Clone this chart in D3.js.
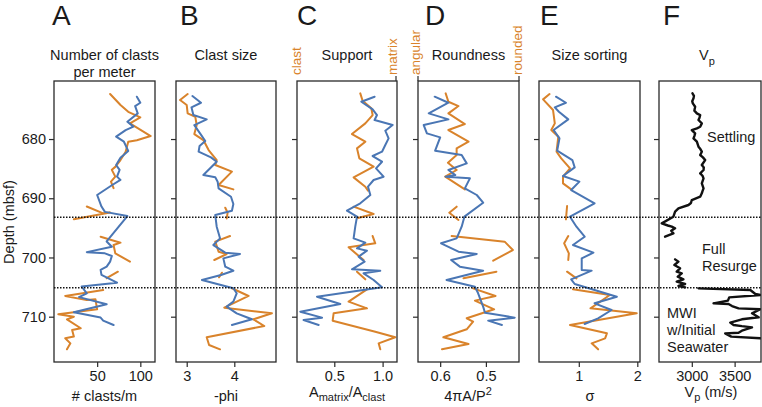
<!DOCTYPE html>
<html><head><meta charset="utf-8">
<script src="https://cdn.jsdelivr.net/npm/d3@7"></script>
<style>body{margin:0;background:#fff}text{font-family:"Liberation Sans",Arial,sans-serif;fill:#1a1a1a}</style>
</head><body>
<script>
// ---------- data (depth in mbsf, value) ; null = gap ----------
const depthTicks = [680, 690, 700, 710];
const depthDomain = [670.2, 717.65];
const boundaryDepths = [693.2, 705.1];

const clastsBlue = [[672.85,96],[673.87,100],[674.43,94],[675.67,97],[677.07,85],[677.9,92],[678.5,83],[679.6,72],[680.45,81],[682.0,86],[683.15,77],[684.4,72],[685.2,76],[686.35,73],[686.9,77],[687.8,67],[689.45,50],[691.4,55],[692.3,59],[693.0,85],[694.8,75],[697.3,61],[698.2,67],[699.1,38],[699.3,59],[699.75,67],[700.7,65],[701.55,61],[702.1,54],[702.95,55],[704.25,73],[704.9,32],[706.05,38],[706.7,29],[707.9,61],[709.25,23],[710.15,54],[710.65,57],[711.4,69]];
const clastsOrange = [[672.4,65],[674.26,77],[675.4,86],[676.35,100],[677.35,88],[679.5,112],[680.2,96],[680.45,86],[682.15,83],[683.55,77],[684.7,71],[685.2,67],[686.35,71],[687.2,66],[688.3,69],[688.4,null],[691.4,38],[692.55,57],[692.4,65],[693.55,23],[694,null],[696.5,54],[697.5,77],[697.9,69],[699.3,71],[700.7,88],[701,null],[702.4,74],[703.5,61],[704,null],[705.5,57],[706.5,13],[707.2,38],[707.05,48],[708.75,50],[709.6,5],[710.0,23],[710.45,15],[711.95,31],[712.25,21],[713.35,23],[713.65,13],[714.5,19],[715.5,15]];

const sizeBlue = [[672.74,3.12],[673.87,3.30],[674.65,3.10],[675.95,3.14],[676.68,3.42],[677.64,3.16],[679.04,3.28],[680.34,3.39],[681.18,3.27],[682.14,3.25],[683.1,3.51],[683.83,3.63],[686.08,3.35],[686.47,3.60],[687.2,3.65],[688.33,3.67],[689.74,3.93],[690.97,3.98],[692.1,3.95],[692.83,3.60],[694.8,3.63],[696.77,3.70],[697.9,3.56],[699.19,3.81],[699.41,4.12],[700.15,3.77],[701.55,3.81],[702.23,3.98],[702.96,3.72],[703.8,3.32],[705.2,3.98],[706.05,4.05],[707.46,3.98],[708.3,3.84],[709.43,4.05],[710.1,4.26],[710.44,4.37],[711.4,3.95]];
const sizeOrange = [[672.4,3.02],[673.42,2.86],[674.26,3.0],[675.67,3.02],[676.23,3.18],[677.64,3.21],[679.16,3.16],[680.17,3.35],[681.86,3.46],[683.55,3.63],[684.39,3.60],[685.51,3.95],[687.77,3.67],[688.5,3.98],[689,null],[691.6,3.81],[692.44,3.86],[693.4,3.84],[694,null],[696.38,3.91],[697.33,3.60],[699.02,3.67],[699.41,3.84],[700.43,3.58],[701,null],[702.57,3.74],[703.35,3.68],[704,null],[705.2,3.95],[706.5,4.30],[708.47,3.79],[709.43,4.79],[710.44,4.40],[711.57,4.63],[713.48,3.42],[714.78,3.47],[715.51,3.70]];

const supportBlue = [[672.85,0.917],[673.7,0.78],[674.99,0.897],[675.95,0.942],[676.79,0.917],[677.64,1.104],[678.59,1.028],[679.89,1.062],[681.01,1.028],[682.14,0.994],[682.87,0.897],[683.83,0.994],[684.95,0.932],[686.36,1.01],[686.92,0.907],[688.05,0.849],[689.45,0.873],[690.86,0.769],[692.1,0.631],[693.11,0.735],[694.8,0.717],[696.77,0.70],[697.5,0.821],[698.46,0.735],[698.85,0.838],[699.86,0.752],[700.71,0.814],[702.0,0.683],[702.23,0.976],[702.68,0.803],[703.8,0.907],[705.04,0.994],[706.62,0.321],[707.86,0.562],[709.15,0.148],[710.16,0.373],[710.56,0.182],[711.4,0.338]];
const supportOrange = [[672.29,0.769],[673.53,0.793],[674.82,0.883],[675.95,0.897],[677.36,0.821],[679.16,0.683],[680.45,0.821],[681.58,0.735],[683.26,0.759],[684.67,0.907],[686.47,0.70],[688.05,0.821],[688.72,0.849],[689,null],[691.42,0.70],[692.66,0.907],[693.39,0.735],[694,null],[696.38,0.897],[697.61,0.924],[698.29,0.648],[700.43,0.803],[701,null],[702.4,0.735],[703.69,0.821],[704,null],[705.38,0.838],[707.46,0.648],[708.59,0.838],[709.43,0.493],[710.67,0.483],[712.53,0.924],[713.48,1.131],[714.5,0.959],[715.51,0.976]];

const roundBlue = [[672.85,0.612],[673.87,0.582],[675.67,0.625],[676.68,0.582],[677.64,0.636],[679.04,0.629],[679.72,0.600],[681.97,0.611],[682.7,0.553],[684.11,0.542],[685.23,0.582],[686.08,0.567],[686.36,0.588],[686.64,0.535],[688.33,0.546],[689.45,0.520],[690.75,0.506],[693.11,0.547],[694.8,0.553],[696.77,0.564],[697.61,0.598],[699.02,0.560],[699.41,0.520],[700.43,0.576],[701.55,0.557],[702.23,0.506],[703.8,0.586],[704.93,0.524],[706.05,0.517],[708.3,0.506],[709.32,0.502],[710.16,0.437],[710.67,0.495],[711.4,0.465]];
const roundOrange = [[672.29,0.588],[673.7,0.582],[674.43,0.560],[675.67,0.582],[677.47,0.546],[678.48,0.582],[680.45,0.538],[681.58,0.564],[682.7,0.564],[684.0,0.583],[685.23,0.564],[686.36,0.589],[688.5,0.546],[689,null],[691.42,0.564],[692.44,0.580],[693.67,0.560],[694,null],[696.38,0.575],[697.33,0.459],[698.74,0.441],[700.54,0.484],[701,null],[702.4,0.477],[703.52,0.549],[704,null],[705.21,0.528],[706.5,0.479],[707.29,0.524],[708.75,0.482],[710.27,0.542],[710.84,0.528],[712.13,0.542],[713.48,0.593],[714.61,0.538],[715.51,0.596]];

const sortBlue = [[672.85,0.61],[673.87,0.78],[674.65,0.59],[675.39,0.66],[676.68,0.82],[678.48,0.57],[679.89,0.67],[681.97,0.63],[683.55,0.89],[684.78,0.93],[686.25,0.73],[687.2,1.01],[688.61,0.87],[690.86,1.27],[693.11,0.85],[694.8,0.96],[696.49,1.10],[697.9,0.90],[699.19,1.25],[700.15,1.05],[702.12,1.05],[702.23,1.22],[703.69,0.87],[704.48,0.93],[706.62,1.65],[707.74,1.27],[708.87,1.56],[710.28,1.33],[711.23,1.10]];
const sortOrange = [[672.4,0.50],[673.3,0.39],[675.1,0.56],[677.36,0.59],[678.48,0.53],[679.61,0.65],[682.14,0.62],[683.26,0.70],[684.95,0.85],[686.36,0.73],[687.48,0.73],[688.5,0.87],[689,null],[691.31,0.80],[693.56,0.78],[694,null],[696.38,0.82],[697.61,0.75],[699.3,0.83],[700.43,0.82],[701,null],[702.4,0.80],[703.52,0.96],[704,null],[705.38,0.90],[706.34,1.53],[708.59,1.20],[709.43,1.99],[711.4,0.85],[712.81,1.48],[713.65,1.45],[714.5,1.22],[715.51,1.33]];

const vpLog = [[672.29,3008],[672.7,3025],[673.13,3020],[673.6,3005],[673.98,3012],[674.54,3039],[675.2,3030],[675.67,3059],[675.95,3098],[676.4,3090],[676.79,3078],[677.36,3117],[677.92,3098],[678.2,3060],[678.48,3000],[679.04,3039],[679.5,3030],[679.89,3020],[680.45,3059],[681.29,3078],[681.7,3100],[682.14,3117],[682.7,3098],[683.1,3130],[683.55,3156],[684.39,3117],[684.8,3140],[685.23,3137],[685.8,3098],[686.2,3125],[686.64,3137],[687.48,3117],[688.33,3137],[688.8,3125],[689.17,3117],[689.74,3098],[690.3,3000],[690.8,2990],[691.14,2961],[691.71,2844],[692.27,2805],[693.11,2785],[694.24,2649],[694.6,2720],[694.8,2766],[695.08,2805],[695.5,2760],[695.93,2785],[696.49,2688],[697,null],
  [700.32,2805],[700.71,2844],[701.27,2797],[701.83,2863],[702.4,2824],[702.68,2883],[703.24,2836],[703.69,2902],[704.09,2824],[704.48,2922],[704.82,2844],[705.04,2922],[705.1,null],
  [705.21,3078],[705.49,3683],[706.17,3742],[706.34,3800],[706.73,3437],[707.29,3422],[707.74,3254],[707.86,3429],[708.2,3470],[708.59,3546],[708.75,3800],[709.43,3703],[710.1,3781],[710.44,3585],[711.0,3449],[711.4,3488],[711.6,3585],[711.8,3703],[712.36,3585],[712.7,3546],[712.81,3390],[713.37,3461],[713.65,3800]];

const panelLetters = ["A","B","C","D","E","F"];
const panelTitles = [["Number of clasts","per meter"],["Clast size"],["Support"],["Roundness"],["Size sorting"],["V","p"]];
const xTicks = [[50,100],[3,4],[0.5,1.0],[0.6,0.5],[1,2],[3000,3500]];
const xDomains = [[0,117],[2.775,4.876],[0.114,1.149],[0.6485,0.4276],[0.32,2.046],[2617,3808]];
const xFormats = ["d","d",".1f",".1f","d","d"];

const BLUE = "#4a76b4", ORANGE = "#d9832b";

// ---------- layout ----------
const W = 762, H = 407, TOP = 81, BOTTOM = 362;
const frames = [[54,155],[176,276],[297,397],[418,519],[539,640],[659,761]];
const letterX = [52,180,297,425,540,663];

const panels = [
  {series:[[clastsOrange,ORANGE],[clastsBlue,BLUE]]},
  {series:[[sizeOrange,ORANGE],[sizeBlue,BLUE]]},
  {series:[[supportOrange,ORANGE],[supportBlue,BLUE]]},
  {series:[[roundOrange,ORANGE],[roundBlue,BLUE]]},
  {series:[[sortOrange,ORANGE],[sortBlue,BLUE]]},
  {series:[[vpLog,"#111"]], width:2.4}
];

const svg = d3.select("body").append("svg").attr("width",W).attr("height",H);
const y = d3.scaleLinear().domain(depthDomain).range([TOP,BOTTOM]);
const defs = svg.append("defs");

panels.forEach((p,i)=>{
  const [x0,x1] = frames[i];
  const x = d3.scaleLinear().domain(xDomains[i]).range([x0,x1]);
  const g = svg.append("g");
  defs.append("clipPath").attr("id","clip"+i).append("rect")
    .attr("x",x0).attr("y",TOP).attr("width",x1-x0).attr("height",BOTTOM-TOP);
  const line = d3.line().defined(d=>d[1]!=null).x(d=>x(d[1])).y(d=>y(d[0]));
  p.series.forEach(([data,color])=>{
    g.append("path").datum(data).attr("d",line)
      .attr("clip-path","url(#clip"+i+")")
      .attr("fill","none").attr("stroke",color)
      .attr("stroke-width",p.width||2).attr("stroke-linejoin","round").attr("stroke-linecap","round");
  });
  g.append("rect").attr("x",x0).attr("y",TOP).attr("width",x1-x0).attr("height",BOTTOM-TOP)
    .attr("fill","none").attr("stroke","#2a2a2a").attr("stroke-width",1.3);

  const ya = g.append("g").attr("transform",`translate(${x0},0)`)
    .call(d3.axisLeft(y).tickValues(depthTicks).tickSize(5).tickPadding(3)
      .tickFormat(i===0 ? d3.format("d") : ""));
  ya.select(".domain").remove();
  ya.selectAll("line").attr("stroke","#2a2a2a").attr("stroke-width",1.2);
  ya.selectAll("text").attr("font-size",14.5).attr("font-family","Liberation Sans, Arial, sans-serif").attr("fill","#1a1a1a");

  const xa = g.append("g").attr("transform",`translate(0,${BOTTOM})`)
    .call(d3.axisBottom(x).tickValues(xTicks[i]).tickSize(5).tickPadding(4).tickFormat(d3.format(xFormats[i])));
  xa.select(".domain").remove();
  xa.selectAll("line").attr("stroke","#2a2a2a").attr("stroke-width",1.2);
  xa.selectAll("text").attr("font-size",14.5).attr("font-family","Liberation Sans, Arial, sans-serif").attr("fill","#1a1a1a");

  const cx = (x0+x1)/2;
  svg.append("text").attr("x",letterX[i]).attr("y",25).attr("font-size",28).text(panelLetters[i]);
  const t = panelTitles[i];
  if (i===5) {
    const tt = svg.append("text").attr("x",cx-3).attr("y",60).attr("text-anchor","middle").attr("font-size",14.5);
    tt.append("tspan").text("V");
    tt.append("tspan").attr("dy",5).attr("font-size",11).text("p");
  } else {
    t.forEach((s,k)=> svg.append("text").attr("x",cx).attr("y",60+17*k)
      .attr("text-anchor","middle").attr("font-size",14.5).text(s));
  }
});

// bottom axis titles
const fs = 14.5, sub = 11;
function title(xc, yb, parts){
  const t = svg.append("text").attr("x",xc).attr("y",yb).attr("text-anchor","middle").attr("font-size",fs);
  let shift = 0;
  parts.forEach(([s,kind])=>{
    const target = kind==="sub" ? 4 : kind==="sup" ? -6 : 0;
    t.append("tspan").attr("dy",target-shift).attr("font-size",kind?sub:fs).text(s);
    shift = target;
  });
}
title(104.5,401,[["# clasts/m"]]);
title(226,401,[["-phi"]]);
title(347,397,[["A"],["matrix","sub"],["/A"],["clast","sub"]]);
title(468,401,[["4πA/P"],["2","sup"]]);
title(590,401,[["σ"]]);
title(711,397,[["V"],["p","sub"],[" (m/s)"]]);

// top end labels for support / roundness
const endLabels = [[300.5,"clast",false],[397,"matrix",true],[420,"angular",true],[522,"rounded",true]];
[[396,"C"],[418,"D"],[519,"D"]].forEach(([xx])=>{
  svg.append("line").attr("x1",xx).attr("x2",xx).attr("y1",TOP).attr("y2",TOP-5)
    .attr("stroke","#2a2a2a").attr("stroke-width",1.2);
});
endLabels.forEach(([xx,s])=>{
  svg.append("text").attr("transform",`translate(${xx},75) rotate(-90)`)
    .attr("font-size",13.5).style("fill",ORANGE).text(s);
});

// boundary dotted lines
boundaryDepths.forEach(d=>{
  svg.append("line").attr("x1",54).attr("x2",W).attr("y1",y(d)).attr("y2",y(d))
    .attr("stroke","#111").attr("stroke-width",1.5).attr("stroke-dasharray","1.5,1.5");
});

// depth label
svg.append("text").attr("transform","translate(14,222) rotate(-90)").attr("text-anchor","middle")
  .attr("font-size",14.5).text("Depth (mbsf)");

// Vp annotations
const ann = [["Settling",707,142],["Full",702,254],["Resurge",702,271],["MWI",667,318],["w/Initial",667,335],["Seawater",667,352]];
ann.forEach(([s,xx,yy])=> svg.append("text").attr("x",xx).attr("y",yy).attr("font-size",14.5).text(s));
</script>
</body></html>
